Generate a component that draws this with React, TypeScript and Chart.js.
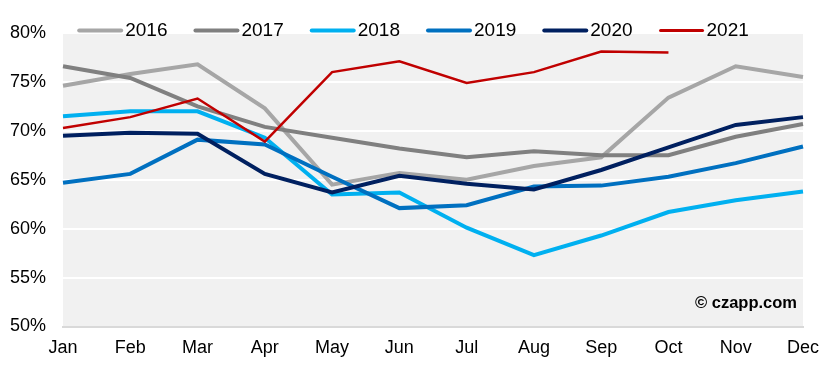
import React, { useEffect, useRef } from "react";
import { Chart, registerables } from "chart.js";

Chart.register(...registerables);

const months = ["Jan", "Feb", "Mar", "Apr", "May", "Jun", "Jul", "Aug", "Sep", "Oct", "Nov", "Dec"];
const seriesNames = ["2016", "2017", "2018", "2019", "2020", "2021"];
const seriesColors = ["#a6a6a6", "#808080", "#00b0f0", "#0070c0", "#002060", "#c00000"];
const seriesWidths = [4, 4, 4, 4, 4, 2.5];

const v2016 = [74.6, 75.8, 76.8, 72.3, 64.5, 65.7, 65.0, 66.4, 67.3, 73.4, 76.6, 75.5];
const v2017 = [76.6, 75.4, 72.5, 70.4, 69.3, 68.2, 67.3, 67.9, 67.5, 67.5, 69.4, 70.7];
const v2018 = [71.5, 72.0, 72.0, 69.3, 63.5, 63.7, 60.1, 57.3, 59.3, 61.7, 62.9, 63.8];
const v2019 = [64.7, 65.6, 69.1, 68.6, 65.3, 62.1, 62.4, 64.3, 64.4, 65.3, 66.7, 68.4];
const v2020 = [69.5, 69.8, 69.7, 65.6, 63.7, 65.4, 64.6, 64.0, 66.0, 68.3, 70.6, 71.4];
const v2021 = [70.3, 71.4, 73.3, 68.9, 76.0, 77.1, 74.9, 76.0, 78.1, 78.0, null, null];
const seriesValues = [v2016, v2017, v2018, v2019, v2020, v2021];

const yMin = 50;
const yMax = 80;
const yStep = 5;
const watermark = "\u00A9 czapp.com";

const FONT = "'Liberation Sans', Arial, sans-serif";

const decorPlugin = {
  id: "decor",
  beforeDraw(chart: any) {
    const { ctx, chartArea } = chart;
    ctx.save();
    ctx.fillStyle = "#f1f1f1";
    ctx.fillRect(chartArea.left, chartArea.top, chartArea.right - chartArea.left, chartArea.bottom - chartArea.top);
    ctx.restore();
  },
  afterDraw(chart: any) {
    const { ctx, chartArea } = chart;
    ctx.save();
    // legend
    ctx.font = `19px ${FONT}`;
    const boxW = 46;
    const boxGap = 2;
    const itemGap = 26;
    const widths = seriesNames.map((n) => boxW + boxGap + ctx.measureText(n).width);
    const total = widths.reduce((a, b) => a + b, 0) + itemGap * (widths.length - 1);
    let x = chart.width / 2 - total / 2 - 1.5;
    const y = 30.5;
    seriesNames.forEach((n, i) => {
      ctx.strokeStyle = seriesColors[i];
      ctx.lineWidth = i === 5 ? 3 : 4;
      ctx.lineCap = "round";
      ctx.beginPath();
      ctx.moveTo(x + 2, y);
      ctx.lineTo(x + boxW - 2, y);
      ctx.stroke();
      ctx.fillStyle = "#000";
      ctx.textAlign = "left";
      ctx.textBaseline = "middle";
      ctx.fillText(n, x + boxW + boxGap, y);
      x += widths[i] + itemGap;
    });
    // watermark
    ctx.font = `bold 16.5px ${FONT}`;
    ctx.fillStyle = "#000";
    ctx.textAlign = "right";
    ctx.textBaseline = "middle";
    ctx.fillText(watermark, chartArea.right - 6, 303);
    ctx.restore();
  },
};

export default function App() {
  const ref = useRef<HTMLCanvasElement | null>(null);
  useEffect(() => {
    if (!ref.current) return;
    const chart = new Chart(ref.current, {
      type: "line",
      data: {
        labels: months,
        datasets: seriesNames.map((name, i) => ({
          label: name,
          data: seriesValues[i],
          borderColor: seriesColors[i],
          backgroundColor: seriesColors[i],
          borderWidth: seriesWidths[i],
          pointRadius: 0,
          pointHoverRadius: 0,
          tension: 0,
          fill: false,
          spanGaps: false,
          order: seriesNames.length - 1 - i,
        })),
      },
      options: {
        responsive: false,
        animation: false,
        events: [],
        layout: { padding: { top: 33, right: 26, left: 0, bottom: 0 } },
        plugins: {
          legend: { display: false },
          tooltip: { enabled: false },
        },
        scales: {
          x: {
            offset: false,
            grid: { display: false },
            border: { display: true, color: "#d9d9d9", width: 2 },
            ticks: {
              color: "#000",
              font: { family: FONT, size: 18 },
              padding: 3,
              maxRotation: 0,
              autoSkip: false,
            },
            afterFit: (s: any) => {
              s.height = 44.5;
            },
          },
          y: {
            min: yMin,
            max: yMax,
            grid: {
              color: (c: any) => (c.tick && c.tick.value === yMin ? "rgba(0,0,0,0)" : "#ffffff"),
              lineWidth: 2,
              drawTicks: false,
            },
            border: { display: false },
            ticks: {
              stepSize: yStep,
              color: "#000",
              font: { family: FONT, size: 18 },
              padding: 17,
              callback: (v: any) => `${v}%`,
            },
            afterFit: (s: any) => {
              s.width = 63;
            },
          },
        },
      },
      plugins: [decorPlugin],
    });
    return () => chart.destroy();
  }, []);
  return (
    <div style={{ position: "absolute", left: 0, top: 0, width: 829, height: 371 }}>
      <canvas ref={ref} width={829} height={371} style={{ display: "block" }} />
    </div>
  );
}
